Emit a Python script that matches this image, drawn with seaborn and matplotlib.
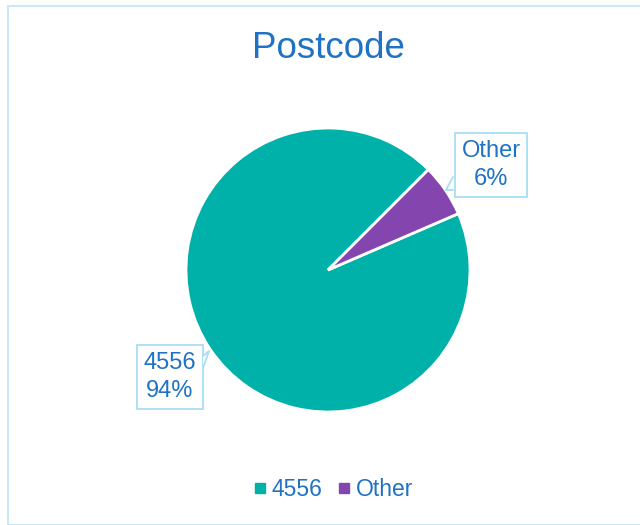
import matplotlib
matplotlib.use("Agg")
import matplotlib.pyplot as plt
import seaborn as sns
from matplotlib.patches import Rectangle, Polygon
from matplotlib.lines import Line2D

# data
categories = ["4556", "Other"]
shares = [94, 6]
colors = ["#00B1A9", "#8445AE"]

text_blue = "#1F72C4"
box_edge = "#A8DDF5"

sns.set_theme(style="white")
plt.rcParams['font.family'] = ['Liberation Sans', 'DejaVu Sans']

fig = plt.figure(figsize=(6.4, 5.25), dpi=100)
W, H = 640, 525


def fpt(x, y):
    # pixel (from top-left) -> figure fraction
    return (x / W, 1 - y / H)


# chart border
fig.patches.append(Rectangle((8 / W, 0), 1, 1 - 6 / H, transform=fig.transFigure,
                             fill=False, edgecolor="#CBE8FA", linewidth=1.5))

cx, cy, r = 328, 525 - 270, 142
ax = fig.add_axes([(cx - r) / W, (cy - r) / H, 2 * r / W, 2 * r / H])
wedges, _ = ax.pie(shares, colors=colors, startangle=23.4, counterclock=False,
                   radius=1, wedgeprops=dict(edgecolor="white", linewidth=2))
ax.set_xlim(-1, 1)
ax.set_ylim(-1, 1)

fig.text(*fpt(328, 49), "Postcode", ha="center", va="center",
         fontsize=26.5, color=text_blue)

# callout labels
labels = [f"{c}\n{s}%" for c, s in zip(categories, shares)]
label_pos = [(170, 377), (491, 165)]
for lab, (x, y) in zip(labels, label_pos):
    fig.text(*fpt(x, y), lab, ha="center", va="center", fontsize=17,
             color=text_blue, linespacing=1.35,
             bbox=dict(boxstyle="square,pad=0.28", fc="white", ec=box_edge, lw=1.3))

# callout pointers (base on the box edge, tip toward the slice)
pointers = [[(203, 356), (209, 351), (203, 368)], [(453, 177), (446, 190), (453, 190)]]
for pts in pointers:
    fig.patches.append(Polygon([fpt(*p) for p in pts], closed=True,
                               transform=fig.transFigure, fc="white", ec="none", zorder=5))
    xs, ys = zip(*[fpt(*p) for p in pts])
    fig.lines.append(Line2D(xs, ys, transform=fig.transFigure, color=box_edge,
                            lw=1.3, zorder=6))

handles = [Line2D([0], [0], marker="s", linestyle="", markersize=6.5,
                  markerfacecolor=c, markeredgecolor=c) for c in colors]
leg = fig.legend(handles, categories, loc="center", bbox_to_anchor=fpt(332, 490),
                 ncol=2, frameon=False, fontsize=16.5, handletextpad=0.1,
                 columnspacing=0.55, handlelength=0.8)
for t in leg.get_texts():
    t.set_color(text_blue)

fig.savefig("out.png", dpi=100)
